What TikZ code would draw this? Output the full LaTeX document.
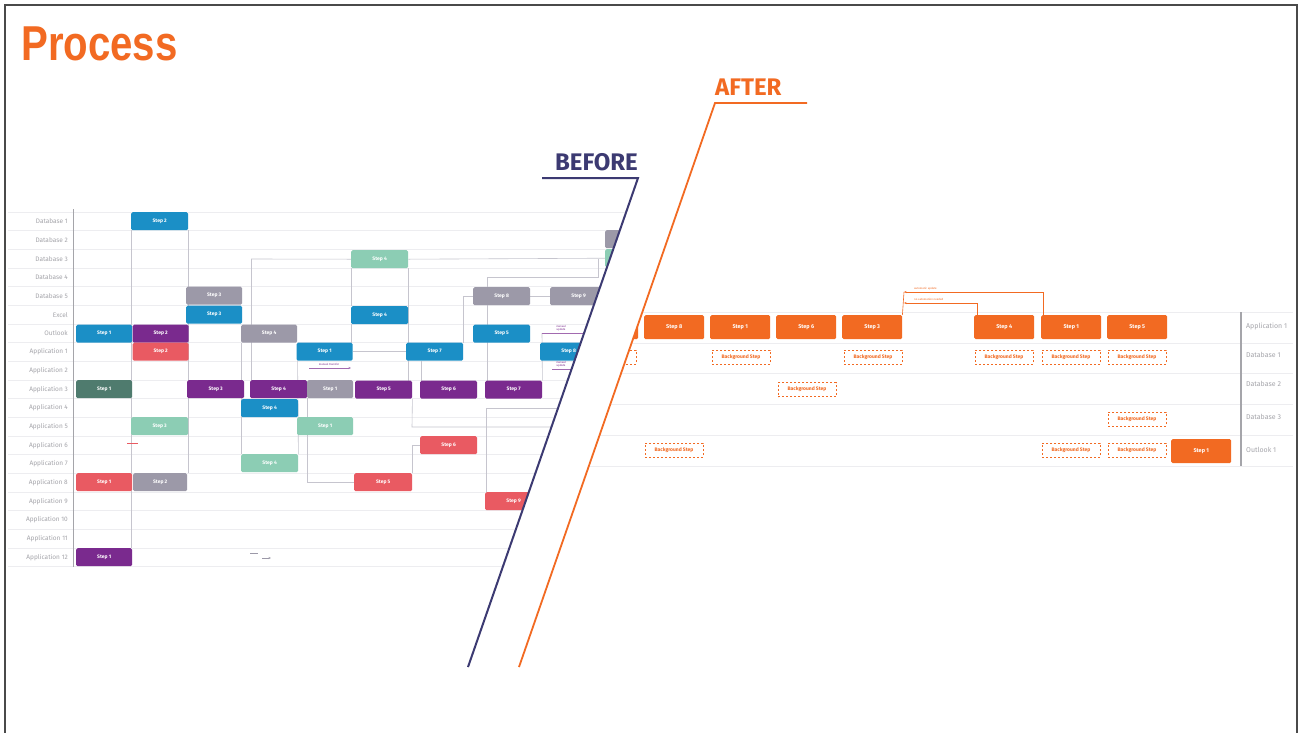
\documentclass[tikz,border=0pt]{standalone}
\usepackage{fontspec}
\setmainfont{Fira Sans}
\newfontfamily\titlefont[FakeStretch=0.82]{Liberation Sans}
\usetikzlibrary{arrows.meta}
\pgfdeclarelayer{gridlayer}
\pgfdeclarelayer{connlayer}
\pgfsetlayers{gridlayer,connlayer,main}
\definecolor{cblue}{HTML}{1B8FC6}
\definecolor{cpurple}{HTML}{7A2A8E}
\definecolor{cred}{HTML}{E95A62}
\definecolor{cgray}{HTML}{9C99A8}
\definecolor{cmint}{HTML}{8CCDB4}
\definecolor{cteal}{HTML}{4F7B6E}
\definecolor{corange}{HTML}{F26A22}
\definecolor{cnavy}{HTML}{3C3A72}
\definecolor{cgrid}{HTML}{EDEDF0}
\definecolor{cline}{HTML}{C6C5CE}
\definecolor{clabel}{HTML}{A5A5AA}
\definecolor{cframe}{HTML}{4A4A4A}
\begin{document}
\begin{tikzpicture}[x=1pt,y=-1pt,
  stepbox/.style={rectangle, rounded corners=1.5pt, minimum width=57pt, minimum height=18pt,
    inner sep=0pt, anchor=north west, text=white, font=\fontsize{5}{6}\selectfont\bfseries},
  obox/.style={rectangle, rounded corners=1.5pt, fill=corange, minimum width=60pt, minimum height=24pt,
    inner sep=0pt, anchor=north west, text=white, font=\fontsize{5.5}{6}\selectfont\bfseries},
  bgbox/.style={rectangle, draw=corange, dash pattern=on 2pt off 2pt, line width=0.6pt,
    minimum width=58pt, minimum height=14pt, inner sep=0pt, text=corange,
    font=\fontsize{5}{6}\selectfont\bfseries},
  rowlab/.style={anchor=east, inner sep=0pt, text=clabel, font=\fontsize{6.5}{7}\selectfont},
  rowlabr/.style={anchor=west, inner sep=0pt, text=clabel, font=\fontsize{7}{8}\selectfont},
  tinylab/.style={inner sep=0pt, font=\fontsize{2.8}{3}\selectfont, align=center},
  conn/.style={cline, line width=0.6pt},
  small arrow/.style={-{Stealth[length=2.5pt,width=2pt]}}
]
\useasboundingbox (0,0) rectangle (1301,732);
\begin{pgfonlayer}{gridlayer}
\fill[white] (0,0) rectangle (1301,732);
\end{pgfonlayer}
% frame
\draw[cframe, line width=1.3pt] (5,740) -- (5,5) -- (1297,5) -- (1297,740);

% title
\node[anchor=base west, inner sep=0pt, text=corange,
  font=\titlefont\bfseries\fontsize{49}{50}\selectfont] (title) at (21,60) {Process};

% ================= BEFORE (left) =================
\coordinate (c1) at (251.5,259);
\coordinate (c3) at (487,277);
\coordinate (c4) at (598,277);
\coordinate (c5) at (598,259);
\coordinate (c6) at (565,408);
\coordinate (c7) at (486,408);
\coordinate (c8) at (412,427);
\coordinate (c9) at (565,427);
\coordinate (c10) at (542,333);
\coordinate (c11) at (586,333);
\coordinate (c12) at (586,369);
\coordinate (c13) at (552,369);
\coordinate (c14) at (309,368);
\coordinate (c15) at (351,368);
\coordinate (c16) at (421.5,380.5);

\begin{scope}
\clip (0,100) -- (665.1,100) -- (468,667) -- (0,667) -- cycle;
\node[stepbox, fill=cblue]   (b1)  at (131,212)   {Step 2};
\node[stepbox, fill=cblue,   minimum width=56pt] (b2)  at (76,324.5)  {Step 1};
\node[stepbox, fill=cpurple, minimum width=56pt] (b3)  at (132.5,324.5) {Step 2};
\node[stepbox, fill=cred,    minimum width=56pt] (b4)  at (132.5,342.5) {Step 2};
\node[stepbox, fill=cgray,   minimum width=56pt] (b5)  at (186,286.5) {Step 3};
\node[stepbox, fill=cblue,   minimum width=56pt] (b6)  at (186,305.5) {Step 3};
\node[stepbox, fill=cgray,   minimum width=56pt] (b7)  at (241,324.5) {Step 4};
\node[stepbox, fill=cblue,   minimum width=56pt] (b8)  at (296.5,342.5) {Step 1};
\node[stepbox, fill=cteal,   minimum width=56pt] (b9)  at (76,380)    {Step 1};
\node[stepbox, fill=cmint]   (b10) at (131,417)   {Step 3};
\node[stepbox, fill=cpurple] (b11) at (187,380)   {Step 3};
\node[stepbox, fill=cpurple] (b12) at (250,380)   {Step 4};
\node[stepbox, fill=cgray,   minimum width=46pt] (b13) at (307,380) {Step 1};
\node[stepbox, fill=cblue]   (b14) at (241,399)   {Step 4};
\node[stepbox, fill=cmint,   minimum width=56pt] (b15) at (297,417) {Step 1};
\node[stepbox, fill=cmint]   (b16) at (241,454)   {Step 4};
\node[stepbox, fill=cred,    minimum width=56pt] (b17) at (76,473)    {Step 1};
\node[stepbox, fill=cgray,   minimum width=54pt] (b18) at (133,473)   {Step 2};
\node[stepbox, fill=cpurple, minimum width=56pt] (b19) at (76,548)    {Step 1};
\node[stepbox, fill=cmint]   (b20) at (351,250)   {Step 4};
\node[stepbox, fill=cblue]   (b21) at (351,306)   {Step 4};
\node[stepbox, fill=cblue]   (b22) at (406,342.5) {Step 7};
\node[stepbox, fill=cgray]   (b23) at (473,287)   {Step 8};
\node[stepbox, fill=cgray]   (b24) at (550,287)   {Step 9};
\node[stepbox, fill=cblue]   (b25) at (473,324.5) {Step 5};
\node[stepbox, fill=cblue]   (b26) at (540,342.5) {Step 8};
\node[stepbox, fill=cpurple] (b27) at (355,380.5) {Step 5};
\node[stepbox, fill=cpurple] (b28) at (420,380.5) {Step 6};
\node[stepbox, fill=cpurple] (b29) at (485,380.5) {Step 7};
\node[stepbox, fill=cred]    (b30) at (420,436)   {Step 6};
\node[stepbox, fill=cred,    minimum width=58pt] (b31) at (354,473) {Step 5};
\node[stepbox, fill=cred]    (b32) at (485,492)   {Step 9};
\node[stepbox, fill=cgray]   (b33) at (605,230)   {};
\node[stepbox, fill=cmint]   (b34) at (605,249)   {};
\node[tinylab, text=cpurple] (t1) at (561,328) {manual\\update};
\node[tinylab, text=cpurple] (t2) at (561,364) {manual\\update};
\node[tinylab, text=cpurple] (t3) at (329,364) {manual transfer};
\end{scope}

\begin{pgfonlayer}{gridlayer}
\begin{scope}
\clip (0,100) -- (665.1,100) -- (468,667) -- (0,667) -- cycle;
\foreach \k in {0,...,19}
  \draw[cgrid, line width=0.6pt] (8,{212+18.67*\k}) -- (700,{212+18.67*\k});
\end{scope}
\end{pgfonlayer}

\begin{pgfonlayer}{connlayer}
\begin{scope}
\clip (0,100) -- (665.1,100) -- (468,667) -- (0,667) -- cycle;
\begin{scope}[conn]
\draw (b1.south west) -- (b1.south west |- b19.north);
\draw (b1.south east) -- (b1.south east |- b18.north);
\draw (b7.south west) -- (b16.north west);
\draw (b7.south east) -- (b16.north east);
\draw (b12.north west -| c1) -- (c1) -- (b20.west);
\draw (b20.east) -- (b34.west);
\draw (b20.south west) -- (b21.north west);
\draw (b21.south west) -- (b21.south west |- b8.north);
\draw (b20.south east) -- (b20.south east |- b27.north);
\draw (b8.east) -- (b22.west);
\draw (c16) -- (c16 |- b22.south);
\draw (b22.north east) |- (b23.west);
\draw (b23.east) -- (b24.west);
\draw (b29.north west -| c3) -- (c3) -- (c4) -- (c5);
\draw (b32.north west -| c7) -- (c7) -- (c6);
\draw (b27.south east) -- (c8) -- (c9);
\draw (b31.north east) |- (b30.west);
\draw (b13.south west) |- (b31.west);
\draw (b29.north east) -- (c10);
\end{scope}
\draw[cpurple!70, line width=0.5pt, small arrow] (c10) -- (c11);
\draw[cpurple!70, line width=0.5pt, small arrow] (c13) -- (c12);
\draw[cpurple!70, line width=0.5pt, small arrow] (c14) -- (c15);
\coordinate (m1) at (127,443);
\coordinate (m2) at (138,443);
\draw[cred, line width=0.6pt] (m1) -- (m2);
\coordinate (m3) at (250,553);
\coordinate (m4) at (258,553);
\coordinate (m5) at (262,558);
\coordinate (m6) at (271,558);
\draw[cgray, line width=0.5pt] (m3) -- (m4);
\draw[cgray, line width=0.5pt, small arrow] (m5) -- (m6);
\end{scope}
\end{pgfonlayer}

% axis & labels (left)
\draw[clabel, line width=1pt] (73,209) -- (73,567);
\foreach \t [count=\i from 0] in {Database 1,Database 2,Database 3,Database 4,Database 5,Excel,Outlook,
  Application 1,Application 2,Application 3,Application 4,Application 5,Application 6,Application 7,
  Application 8,Application 9,Application 10,Application 11,Application 12}
  \node[rowlab] (L\i) at (68,{221.3+18.67*\i}) {\t};

% ================= AFTER (right) =================
\begin{pgfonlayer}{gridlayer}
\begin{scope}
\clip (715,103) -- (1301,103) -- (1301,667) -- (519,667) -- cycle;
\foreach \yy in {312,343,373.5,404.5,435,466}
  \draw[cgrid, line width=0.7pt] (540,\yy) -- (1293,\yy);
\end{scope}
\end{pgfonlayer}
\begin{scope}
\clip (715,103) -- (1301,103) -- (1301,667) -- (519,667) -- cycle;
\node[obox] (o1) at (578,315)  {};
\node[obox] (o2) at (644,315)  {Step 8};
\node[obox] (o3) at (710,315)  {Step 1};
\node[obox] (o4) at (776,315)  {Step 6};
\node[obox] (o5) at (842,315)  {Step 3};
\node[obox] (o6) at (974,315)  {Step 4};
\node[obox] (o7) at (1041,315) {Step 1};
\node[obox] (o8) at (1107,315) {Step 5};
\node[obox] (o9) at (1171,439) {Step 1};
\node[bgbox] (g1)  at (607,357)   {Background Step};
\node[bgbox] (g2)  at (741,357)   {Background Step};
\node[bgbox] (g3)  at (873,357)   {Background Step};
\node[bgbox] (g4)  at (1004,357)  {Background Step};
\node[bgbox] (g5)  at (1071,357)  {Background Step};
\node[bgbox] (g6)  at (1137,357)  {Background Step};
\node[bgbox] (g7)  at (807,389.5) {Background Step};
\node[bgbox] (g8)  at (1137,419)  {Background Step};
\node[bgbox] (g9)  at (674,450)   {Background Step};
\node[bgbox] (g10) at (1071,450)  {Background Step};
\node[bgbox] (g11) at (1137,450)  {Background Step};
% feedback arrows
\coordinate (a1) at (904,292);
\coordinate (a2) at (904,303);
\draw[corange, line width=0.6pt] (o5.north east) -- (a1);
\draw[corange, line width=0.6pt, small arrow] ([xshift=2pt]o7.north west) |- (a1);
\draw[corange, line width=0.6pt, small arrow] ([xshift=3pt]o6.north west) |- (a2);
\node[tinylab, text=corange, anchor=south west] (t4) at (914,290) {automatic update};
\node[tinylab, text=corange, anchor=south west] (t5) at (914,301) {no automation needed};
\end{scope}

% right axis & labels
\draw[clabel, line width=1.2pt] (1241,312) -- (1241,466);
\node[rowlabr] (R1) at (1246,327) {Application 1};
\node[rowlabr] (R2) at (1246,355) {Database 1};
\node[rowlabr] (R3) at (1246,384) {Database 2};
\node[rowlabr] (R4) at (1246,417) {Database 3};
\node[rowlabr] (R5) at (1246,450) {Outlook 1};

% BEFORE / AFTER dividers
\coordinate (bf1) at (542,178);
\coordinate (bf2) at (638,178);
\coordinate (bf3) at (468,667);
\coordinate (af1) at (807,103);
\coordinate (af2) at (715,103);
\coordinate (af3) at (519,667);
\draw[cnavy, line width=2pt] (bf1) -- (bf2) -- (bf3);
\draw[corange, line width=1.8pt] (af1) -- (af2) -- (af3);
\node[anchor=base east, inner sep=0pt, text=cnavy, font=\bfseries\fontsize{24}{26}\selectfont] (before) at (638,170) {BEFORE};
\node[anchor=base west, inner sep=0pt, text=corange, font=\bfseries\fontsize{24}{26}\selectfont] (after) at (715,95) {AFTER};
\end{tikzpicture}
\end{document}
